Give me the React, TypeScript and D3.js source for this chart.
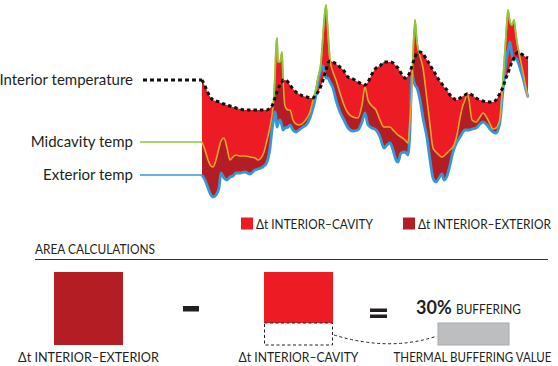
import React, { useLayoutEffect, useMemo, useRef } from 'react';
import * as d3 from 'd3';

// hours since start of record (~2 weeks)
const hours = [
  0, 3, 6, 9, 11, 14, 17, 19, 22, 25, 28, 31, 34, 38, 43, 48, 53, 56, 59, 62,
  65, 68, 70, 72, 73, 74, 75, 76, 78, 80, 81, 83, 86, 88, 91, 94, 97, 101, 105, 108,
  111, 113, 116, 119, 121, 122, 124, 126, 128, 131, 134, 138, 142, 146, 151, 156, 160, 163, 166, 170,
  174, 178, 182, 185, 188, 191, 194, 196, 199, 203, 206, 208, 210, 211, 213, 215, 218, 221, 225, 228,
  231, 234, 237, 240, 242, 245, 248, 251, 255, 258, 261, 263, 265, 267, 270, 274, 278, 281, 285, 288,
  291, 294, 296, 298, 301, 304, 306, 308, 310, 312, 314, 316, 318, 321, 324, 326,
];

// temperatures (°F)
const interiorTemp = [
  60, 57, 53.5, 51, 50, 49.5, 49, 48.5, 48, 47.5, 47, 46.5, 46, 45.5, 45, 45, 45, 45, 45, 45,
  45, 46, 47, 49.5, 51, 52.5, 54, 55.5, 57.5, 59, 60, 60, 59, 57.5, 55.5, 54, 53, 52, 51.5, 51,
  51, 52, 54, 57, 60, 62, 65, 68.5, 69.5, 69, 68, 66.5, 64.5, 61.5, 60.5, 59, 58, 57.5, 59, 63,
  66, 67, 69, 69, 69, 68.5, 67, 66, 63.5, 61, 62, 64, 67, 68.5, 71.5, 73.5, 74, 73, 70, 67.5,
  65, 62.5, 60, 58, 56.5, 55, 52.5, 51, 50, 51, 52, 52.5, 53, 53, 52.5, 51, 50, 49.5, 49, 49,
  49, 50, 51.5, 53.5, 56.5, 61, 63.5, 66.5, 69, 71, 73, 74, 73.5, 72.5, 71.5, 71,
];

const cavityTemp = [
  29, 25, 20, 17, 16.5, 20, 26, 29.5, 31, 26, 20, 21.5, 22.5, 22, 22, 21.5, 21, 20, 21, 24,
  30, 36.5, 42.5, 52.5, 62.5, 76, 81, 69, 69, 74, 61.5, 47, 45, 45, 40, 38, 37.5, 38.5, 41, 44,
  50, 53.5, 61, 69, 82.5, 89, 97.5, 83.5, 70, 64, 60, 53.5, 47.5, 43.5, 41.5, 41, 47.5, 56.5, 50, 47,
  45, 40, 36.5, 36.5, 36.5, 35, 33.5, 32.5, 31.5, 30, 28.5, 40, 56.5, 72.5, 90, 79, 72, 66, 50, 37.5,
  26, 24, 22.5, 21.5, 22, 23.5, 25, 26.5, 32.5, 41, 47.5, 50, 53.5, 50, 40, 39, 41.5, 43.5, 41, 38,
  35.5, 36, 37.5, 41, 60, 82.5, 95, 89, 87.5, 90, 82.5, 76, 71, 64, 56, 51,
];

const exteriorTemp = [
  12.5, 10, 6, 2.5, 1.5, 2.5, 6, 13.5, 11, 10, 11.5, 12, 13.5, 13.5, 14, 13, 15, 15.5, 16, 17,
  19, 26, 35, 41, 44, 41, 36.5, 38, 40, 37, 35, 36, 36.5, 37.5, 35, 34, 35, 36.5, 38, 41,
  46, 50, 59, 65, 67, 65, 61, 61, 59, 56, 50, 44, 40, 36, 34.5, 35, 39, 43.5, 37.5, 36,
  35, 31.5, 26, 27.5, 28.5, 25, 20, 19, 23.5, 24, 22.5, 35, 64, 61, 57.5, 56, 50, 41, 31, 20,
  11, 9, 11, 13, 10, 12, 17.5, 24, 29, 31.5, 34, 35, 35, 35, 35.5, 36, 38, 39, 37.5, 35.5,
  34, 33.5, 35, 39, 55, 69, 75, 79, 72.5, 70, 71, 69, 66, 61, 55, 51.5,
];

const legendItems = [
  { label: 'Δt INTERIOR–CAVITY', color: '#ed1c24', x: 241, len: 117 },
  { label: 'Δt INTERIOR–EXTERIOR', color: '#b51d25', x: 403, len: 133 },
];

const bufferingPct = 30;

const RED = '#ed1c24';
const DARK_RED = '#b51d25';
const GREEN = '#8dc63f';
const GOLD = '#e2a62e';
const BLUE = '#3399d6';
const INK = '#231f20';
const SANS = 'Lato, "Open Sans", sans-serif';

export default function App() {
  const width = 558;
  const height = 366;
  const svgRef = useRef<SVGSVGElement>(null);

  const rows = useMemo(
    () => hours.map((h, i) => ({ h, int: interiorTemp[i], cav: cavityTemp[i], ext: exteriorTemp[i] })),
    []
  );

  // squeeze the caps labels horizontally (condensed look), scaling round their anchor
  useLayoutEffect(() => {
    d3.select(svgRef.current)
      .selectAll<SVGTextElement, unknown>('text[data-len]')
      .each(function () {
        const len = +(this.getAttribute('data-len') || 0);
        const w = this.getComputedTextLength();
        if (!w) return;
        const s = len / w;
        const x0 = +(this.getAttribute('x') || 0);
        this.setAttribute('transform', `translate(${x0 * (1 - s)},0) scale(${s},1)`);
      });
  }, []);

  const x = d3.scaleLinear().domain([0, 326]).range([202, 528]);
  const y = d3.scaleLinear().domain([0, 100]).range([200, 0]);
  const curve = d3.curveMonotoneX;

  const cavityExteriorArea = d3.area<any>().x(d => x(d.h)).y0(d => y(d.cav)).y1(d => y(d.ext)).curve(curve);
  const interiorCavityArea = d3.area<any>().x(d => x(d.h)).y0(d => y(d.int)).y1(d => y(d.cav)).curve(curve);
  const aboveInterior = d3.area<any>().x(d => x(d.h)).y0(0).y1(d => y(d.int)).curve(curve);

  const intLine = d3.line<any>().x(d => x(d.h)).y(d => y(d.int)).curve(curve);
  const cavLine = d3.line<any>().x(d => x(d.h)).y(d => y(d.cav)).curve(curve);
  const extLine = d3.line<any>().x(d => x(d.h)).y(d => y(d.ext)).curve(curve);

  const y0Int = y(interiorTemp[0]);
  const y0Cav = y(cavityTemp[0]);
  const y0Ext = y(exteriorTemp[0]);

  const caps = { fontFamily: SANS, fontSize: 14, fill: INK };

  return (
    <svg
      ref={svgRef}
      width={width}
      height={height}
      viewBox={`0 0 ${width} ${height}`}
      style={{ position: 'absolute', left: 0, top: 0, background: '#fff' }}
    >
      <defs>
        <clipPath id="above-int">
          <path d={aboveInterior(rows) || ''} />
        </clipPath>
      </defs>

      {/* series labels */}
      <g fontFamily={SANS} fontSize={15} fill={INK} textAnchor="end">
        <text x={133} y={y0Int + 5}>Interior temperature</text>
        <text x={133} y={y0Cav + 5}>Midcavity temp</text>
        <text x={133} y={y0Ext + 5}>Exterior temp</text>
      </g>
      <line x1={143} x2={x(0)} y1={y0Int} y2={y0Int} stroke="#111" strokeWidth={3} strokeDasharray="4 3" />
      <line x1={140} x2={x(0)} y1={y0Cav} y2={y0Cav} stroke={GREEN} strokeWidth={1.5} />
      <line x1={140} x2={x(0)} y1={y0Ext} y2={y0Ext} stroke={BLUE} strokeWidth={1.5} />

      {/* areas */}
      <path d={cavityExteriorArea(rows) || ''} fill={DARK_RED} />
      <path d={interiorCavityArea(rows) || ''} fill={RED} />
      <path d={extLine(rows) || ''} fill="none" stroke={BLUE} strokeWidth={2.8} strokeLinejoin="round" />
      <path d={cavLine(rows) || ''} fill="none" stroke={GOLD} strokeWidth={1.6} strokeLinejoin="round" />
      <path
        d={cavLine(rows) || ''}
        fill="none"
        stroke={GREEN}
        strokeWidth={1.8}
        strokeLinejoin="round"
        clipPath="url(#above-int)"
      />
      <path d={intLine(rows) || ''} fill="none" stroke="#111" strokeWidth={3} strokeDasharray="3.5 3" />

      {/* legend */}
      {legendItems.map(d => (
        <g key={d.label}>
          <rect x={d.x} y={217.5} width={12} height={12} fill={d.color} />
          <text x={d.x + 15} y={229.5} data-len={d.len} {...caps}>{d.label}</text>
        </g>
      ))}

      {/* area calculations */}
      <text x={35} y={254} data-len={120} {...caps}>AREA CALCULATIONS</text>
      <line x1={35} x2={548} y1={259.5} y2={259.5} stroke="#333" strokeWidth={1.2} />

      <rect x={54} y={272} width={69} height={73} fill={DARK_RED} />
      <rect x={183} y={306} width={16} height={5.5} fill={INK} />
      <rect x={264} y={272} width={69} height={51} fill={RED} />
      <rect x={264.5} y={323} width={68} height={22} fill="none" stroke={INK} strokeWidth={1} strokeDasharray="3 2.5" />
      <rect x={370} y={308.5} width={17} height={3.5} fill={INK} />
      <rect x={370} y={314.5} width={17} height={3.5} fill={INK} />
      <path d="M334,335 Q390,352 437,336" fill="none" stroke={INK} strokeWidth={1} strokeDasharray="3 2.5" />
      <rect x={438} y={323} width={71} height={22} fill="#bcbec0" stroke="#a7a9ac" strokeWidth={1} />

      <text x={416} y={314} fontFamily={SANS} fontWeight={700} fontSize={18} fill={INK}>
        {bufferingPct}%
      </text>
      <text x={456} y={314} data-len={65} {...caps}>BUFFERING</text>

      <g textAnchor="middle">
        <text x={88.5} y={362} data-len={141} {...caps}>Δt INTERIOR–EXTERIOR</text>
        <text x={298.5} y={362} data-len={120} {...caps}>Δt INTERIOR–CAVITY</text>
        <text x={472.5} y={362} data-len={158} {...caps}>THERMAL BUFFERING VALUE</text>
      </g>
    </svg>
  );
}
